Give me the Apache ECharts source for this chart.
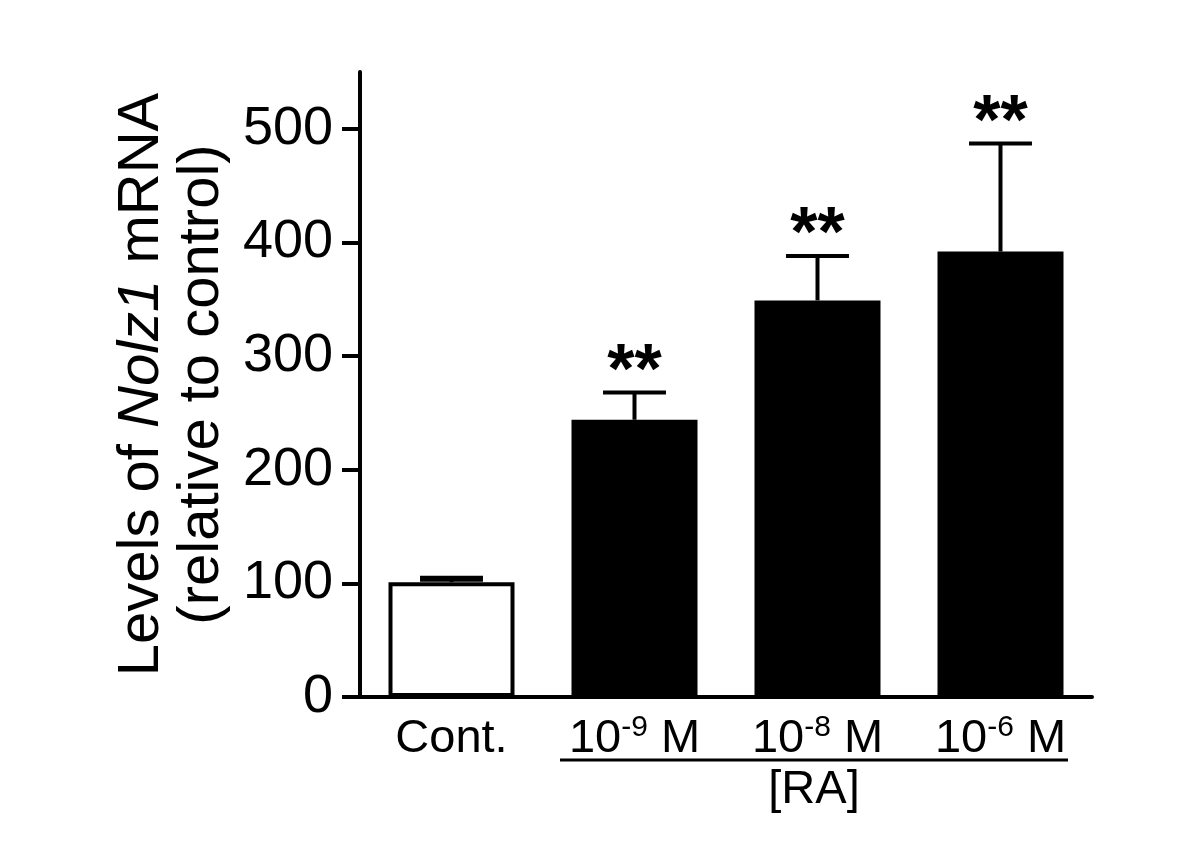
<!DOCTYPE html>
<html>
<head>
<meta charset="utf-8">
<script src="https://cdn.jsdelivr.net/npm/echarts@6/dist/echarts.min.js"></script>
<style>html,body{margin:0;padding:0;background:#fff}#c{width:1200px;height:847px}</style>
</head>
<body>
<div id="c"></div>
<script>
const categories = ['Cont.{sup|\u200b}', '10{sup|-9} M', '10{sup|-8} M', '10{sup|-6} M'];
const means = [101, 244, 349, 392];
const sems = [3, 24, 39, 95];
const significance = ['', '**', '**', '**'];
const yTicks = [0, 100, 200, 300, 400, 500];
const barColors = ['#ffffff', '#000000', '#000000', '#000000'];

const FONT = 'Liberation Sans, Arial, sans-serif';
const chart = echarts.init(document.getElementById('c'));

const barData = means.map((v, i) => ({
  value: v,
  itemStyle: {
    color: barColors[i],
    borderColor: '#000',
    borderWidth: i === 0 ? 4 : 0
  }
}));
const errData = means.map((v, i) => [i, v, sems[i]]);

chart.setOption({
  animation: false,
  backgroundColor: '#fff',
  grid: { left: 360, right: 108, top: 72, bottom: 150 },
  xAxis: {
    type: 'category',
    data: categories,
    axisLine: { lineStyle: { color: '#000', width: 4 } },
    axisTick: { show: false },
    axisLabel: {
      interval: 0,
      color: '#000', fontSize: 47, fontFamily: FONT, margin: 16,
      formatter: v => v,
      rich: {
        sup: { fontSize: 30, verticalAlign: 'top', padding: [0, 0, 22, 0], fontFamily: FONT, color: '#000' }
      }
    }
  },
  yAxis: {
    type: 'value',
    min: 0, max: 550, interval: 100,
    name: 'Levels of {i|Nolz1} mRNA\n(relative to control)',
    nameLocation: 'middle',
    nameRotate: 90,
    nameGap: 124,
    nameTextStyle: {
      color: '#000', fontSize: 58, fontFamily: FONT, lineHeight: 60, align: 'center',
      padding: [0, 0, 0, 0],
      rich: { i: { fontStyle: 'italic', fontSize: 58, fontFamily: FONT, color: '#000', lineHeight: 60 } }
    },
    axisLine: { show: true, lineStyle: { color: '#000', width: 4 } },
    axisTick: { show: true, length: 18, lineStyle: { color: '#000', width: 4 }, customValues: yTicks },
    axisLabel: { color: '#000', fontSize: 54, fontFamily: FONT, margin: 27, customValues: yTicks },
    splitLine: { show: false }
  },
  series: [
    {
      type: 'bar',
      data: barData,
      barWidth: 126,
      z: 2
    },
    {
      type: 'custom',
      data: errData,
      z: 3,
      renderItem: function (params, api) {
        const x = api.value(0);
        const m = api.value(1);
        const s = api.value(2);
        const sig = significance[params.dataIndex];
        const base = api.coord([x, m]);
        const top = api.coord([x, m + s]);
        const half = api.size([1, 0])[0] * 0.172;
        const capW = params.dataIndex === 0 ? 6 : 4;
        const children = [
          { type: 'line', shape: { x1: base[0], y1: base[1], x2: top[0], y2: top[1] }, style: { stroke: '#000', lineWidth: 4 } },
          { type: 'line', shape: { x1: top[0] - half, y1: top[1], x2: top[0] + half, y2: top[1] }, style: { stroke: '#000', lineWidth: capW } }
        ];
        if (sig) {
          children.push({
            type: 'text',
            style: { text: sig, x: top[0], y: top[1] - 19, align: 'center', verticalAlign: 'middle', fontSize: 70, fontWeight: 'bold', fontFamily: FONT, fill: '#000' }
          });
        }
        return { type: 'group', children };
      }
    }
  ],
  graphic: [
    { type: 'line', shape: { x1: 560, y1: 760, x2: 1068, y2: 760 }, style: { stroke: '#000', lineWidth: 3 } },
    { type: 'text', style: { text: '[RA]', x: 814, y: 790, align: 'center', verticalAlign: 'middle', fontSize: 47, fontFamily: FONT, fill: '#000' } }
  ]
});
</script>
</body>
</html>
